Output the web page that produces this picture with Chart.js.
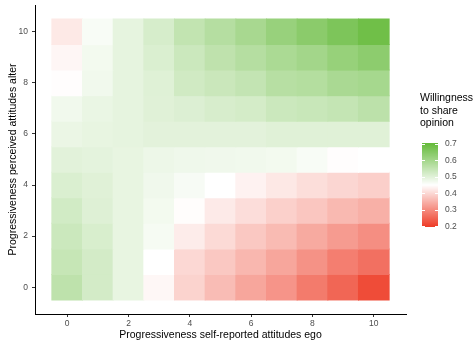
<!DOCTYPE html>
<html>
<head>
<meta charset="utf-8">
<script src="https://cdn.jsdelivr.net/npm/chart.js@4/dist/chart.umd.min.js"></script>
<style>
  html, body { margin: 0; padding: 0; background: #ffffff; }
  #wrap { width: 476px; height: 346px; }
</style>
</head>
<body>
<div id="wrap"><canvas id="heat" width="476" height="346"></canvas></div>
<script>
// Levels on both axes (0 = least progressive, 10 = most progressive)
const egoLevels = [0, 1, 2, 3, 4, 5, 6, 7, 8, 9, 10];
const alterLevels = [0, 1, 2, 3, 4, 5, 6, 7, 8, 9, 10];
const axisTicks = [0, 2, 4, 6, 8, 10];
const legendBreaks = [0.2, 0.3, 0.4, 0.5, 0.6, 0.7];

// Mean willingness to share an opinion; one row per alter level, columns follow egoLevels
const alter0  = [0.556, 0.522, 0.488, 0.440, 0.393, 0.363, 0.334, 0.311, 0.278, 0.251, 0.217];
const alter1  = [0.543, 0.522, 0.488, 0.450, 0.399, 0.378, 0.356, 0.334, 0.308, 0.282, 0.264];
const alter2  = [0.535, 0.514, 0.488, 0.465, 0.425, 0.402, 0.378, 0.361, 0.339, 0.320, 0.303];
const alter3  = [0.525, 0.504, 0.488, 0.470, 0.447, 0.423, 0.406, 0.389, 0.376, 0.359, 0.347];
const alter4  = [0.510, 0.501, 0.488, 0.474, 0.463, 0.450, 0.433, 0.420, 0.407, 0.397, 0.388];
const alter5  = [0.497, 0.494, 0.488, 0.479, 0.476, 0.474, 0.473, 0.470, 0.461, 0.448, 0.450];
const alter6  = [0.483, 0.488, 0.491, 0.496, 0.496, 0.496, 0.496, 0.501, 0.501, 0.501, 0.501];
const alter7  = [0.473, 0.484, 0.491, 0.501, 0.507, 0.515, 0.520, 0.535, 0.540, 0.546, 0.559];
const alter8  = [0.448, 0.473, 0.491, 0.502, 0.527, 0.537, 0.548, 0.568, 0.573, 0.589, 0.595];
const alter9  = [0.438, 0.470, 0.491, 0.510, 0.535, 0.555, 0.571, 0.587, 0.600, 0.620, 0.636];
const alter10 = [0.421, 0.461, 0.491, 0.517, 0.550, 0.571, 0.592, 0.618, 0.640, 0.662, 0.684];
const willingness = [alter0, alter1, alter2, alter3, alter4, alter5, alter6, alter7, alter8, alter9, alter10];

// Diverging fill: red below the midpoint, white at it, green above
const LOW = [238, 63, 42];
const MID = [255, 255, 255];
const HIGH = [102, 187, 60];
const MIDPOINT = 0.45;
const HALF_SPAN = 0.25;

function fillFor(v) {
  let t = (v - MIDPOINT) / HALF_SPAN;
  t = Math.max(-1, Math.min(1, t));
  const end = t < 0 ? LOW : HIGH;
  const k = Math.abs(t);
  const c = MID.map((m, i) => Math.round(m + (end[i] - m) * k));
  return `rgb(${c[0]},${c[1]},${c[2]})`;
}

const cells = alterLevels.flatMap((a, i) =>
  egoLevels.map((e, j) => ({ x: e, y: [a - 0.5, a + 0.5], v: willingness[i][j] }))
);

const FONT = '"Liberation Sans", Arial, sans-serif';
const TICK_GREY = '#4d4d4d';

// Colour-bar legend drawn to the right of the panel
const colourBar = {
  id: 'colourBar',
  afterDraw(chart) {
    const ctx = chart.ctx;
    const x0 = 422, w = 16, top = 143, bottom = 227;
    const lo = 0.195, hi = 0.705;
    const yFor = v => bottom - (v - lo) / (hi - lo) * (bottom - top);
    ctx.save();
    ctx.fillStyle = '#000000';
    ctx.font = `10.5px ${FONT}`;
    ctx.textAlign = 'left';
    ctx.textBaseline = 'middle';
    ['Willingness', 'to share', 'opinion'].forEach((s, i) => ctx.fillText(s, 420, 98 + i * 12.8));
    for (let y = top; y < bottom; y++) {
      const v = hi - (y + 0.5 - top) / (bottom - top) * (hi - lo);
      ctx.fillStyle = fillFor(v);
      ctx.fillRect(x0, y, w, 1);
    }
    ctx.strokeStyle = '#ffffff';
    ctx.lineWidth = 1;
    ctx.fillStyle = TICK_GREY;
    ctx.font = `8.5px ${FONT}`;
    legendBreaks.forEach(b => {
      const y = Math.round(yFor(b)) + 0.5;
      ctx.beginPath();
      ctx.moveTo(x0, y); ctx.lineTo(x0 + 3, y);
      ctx.moveTo(x0 + w - 3, y); ctx.lineTo(x0 + w, y);
      ctx.stroke();
      ctx.fillText(b.toFixed(1), 445, yFor(b));
    });
    ctx.restore();
  }
};

new Chart(document.getElementById('heat'), {
  type: 'bar',
  data: {
    datasets: [{
      data: cells,
      backgroundColor: c => (c.raw ? fillFor(c.raw.v) : '#fff'),
      borderWidth: 0,
      inflateAmount: 0.5,
      barPercentage: 1,
      categoryPercentage: 1
    }]
  },
  options: {
    responsive: false,
    animation: false,
    events: [],
    layout: { padding: { top: 5, right: 70, left: 0, bottom: 0 } },
    plugins: { legend: { display: false }, tooltip: { enabled: false } },
    scales: {
      x: {
        type: 'linear',
        offset: false,
        min: -1.05,
        max: 11.05,
        afterBuildTicks: s => { s.ticks = axisTicks.map(v => ({ value: v })); },
        afterFit: s => { s.height = 32; s.paddingLeft = 0; s.paddingRight = 0; },
        grid: { display: true, offset: false, drawOnChartArea: false, drawTicks: true, tickLength: 3, color: '#333333', tickColor: '#333333' },
        border: { display: true, color: '#000000', width: 1 },
        ticks: { color: TICK_GREY, font: { family: FONT, size: 8.5 }, padding: 2, maxRotation: 0 },
        title: { display: true, text: 'Progressiveness self-reported attitudes ego', color: '#000000',
                 font: { family: FONT, size: 10.5 }, padding: { top: 0, bottom: 5 } }
      },
      y: {
        type: 'linear',
        min: -1.05,
        max: 11.05,
        afterBuildTicks: s => { s.ticks = axisTicks.map(v => ({ value: v })); },
        afterFit: s => { s.width = 35; s.paddingTop = 0; s.paddingBottom = 0; },
        grid: { display: true, offset: false, drawOnChartArea: false, drawTicks: true, tickLength: 3, color: '#333333', tickColor: '#333333' },
        border: { display: true, color: '#000000', width: 1 },
        ticks: { color: TICK_GREY, font: { family: FONT, size: 8.5 }, padding: 4 },
        title: { display: true, text: 'Progressiveness perceived attitudes alter', color: '#000000',
                 font: { family: FONT, size: 10.5 }, padding: { top: 7, bottom: 0 } }
      }
    }
  },
  plugins: [colourBar]
});
</script>
</body>
</html>
